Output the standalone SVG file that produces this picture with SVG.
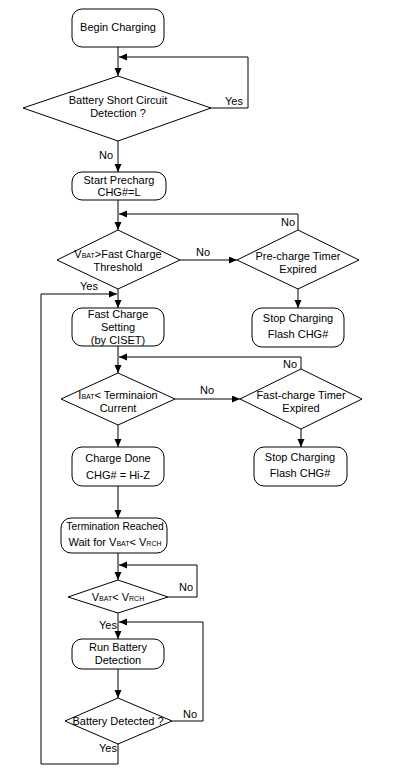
<svg xmlns="http://www.w3.org/2000/svg" width="400" height="774" viewBox="0 0 400 774">
<defs>
<marker id="ah" markerUnits="userSpaceOnUse" markerWidth="9" markerHeight="8" refX="8" refY="3.5" orient="auto">
<path d="M0,0 L8,3.5 L0,7 z" fill="#000"/>
</marker>
<style>
.box{fill:#fff;stroke:#000;stroke-width:1}
.dia{fill:#fff;stroke:#000;stroke-width:1}
.t{font-family:"Liberation Sans",Arial,sans-serif;font-size:11px;fill:#000;text-anchor:middle}
.l{font-family:"Liberation Sans",Arial,sans-serif;font-size:11px;fill:#000;text-anchor:middle}
.s{font-size:7px}
.c{fill:none;stroke:#000;stroke-width:1}
.a{marker-end:url(#ah)}
</style>
</defs>
<rect width="400" height="774" fill="#fff"/>
<g id="connectors">
<path class="c a" d="M118,47 V76"/>
<path class="c a" d="M211,108 H248 V57 H119"/>
<path class="c a" d="M118,141 V172"/>
<path class="c a" d="M118,200 V230"/>
<path class="c a" d="M298,230 V214 H119"/>
<path class="c a" d="M180,260 H237"/>
<path class="c a" d="M298,289 V308"/>
<path class="c a" d="M118,289 V308"/>
<path class="c a" d="M118,346 V373"/>
<path class="c a" d="M301,369 V357 H119"/>
<path class="c a" d="M175,399 H240"/>
<path class="c a" d="M301,429 V447"/>
<path class="c a" d="M118,425 V447"/>
<path class="c a" d="M118,486 V518"/>
<path class="c a" d="M118,553 V580"/>
<path class="c a" d="M168,597 H197 V565 H119"/>
<path class="c a" d="M118,613 V639"/>
<path class="c a" d="M118,669 V698"/>
<path class="c a" d="M172,721 H203 V622 H119"/>
<path class="c a" d="M118,744 V764 H41 V294 H117"/>
<text class="l" x="234" y="105">Yes</text>
<text class="l" x="106" y="159">No</text>
<text class="l" x="288" y="226">No</text>
<text class="l" x="203" y="256">No</text>
<text class="l" x="89" y="290">Yes</text>
<text class="l" x="290" y="368">No</text>
<text class="l" x="207" y="394">No</text>
<text class="l" x="186" y="591">No</text>
<text class="l" x="108" y="629">Yes</text>
<text class="l" x="190" y="718">No</text>
<text class="l" x="108" y="752">Yes</text>
</g>
<g id="begin">
<rect class="box" x="72" y="9" width="92" height="38" rx="10"/>
<text class="t" x="118" y="31">Begin Charging</text>
</g>
<g id="short-circuit">
<polygon class="dia" points="118,76 211,108 118,141 23,108"/>
<text class="t" x="118" y="104">Battery Short Circuit</text>
<text class="t" x="118" y="117">Detection ?</text>
</g>
<g id="precharge">
<rect class="box" x="72" y="172" width="94" height="28" rx="10"/>
<text class="t" x="119" y="184">Start Precharg</text>
<text class="t" x="119" y="196">CHG#=L</text>
</g>
<g id="fast-threshold">
<polygon class="dia" points="118,230 180,260 118,289 57,260"/>
<text class="t" x="118" y="258">V<tspan class="s">BAT</tspan>&gt;Fast Charge</text>
<text class="t" x="118" y="271">Threshold</text>
</g>
<g id="precharge-timer">
<polygon class="dia" points="298,230 359,260 298,289 237,260"/>
<text class="t" x="298" y="260">Pre-charge Timer</text>
<text class="t" x="298" y="273">Expired</text>
</g>
<g id="stop1">
<rect class="box" x="252" y="308" width="92" height="39" rx="10"/>
<text class="t" x="298" y="322">Stop Charging</text>
<text class="t" x="298" y="338">Flash CHG#</text>
</g>
<g id="fast-setting">
<rect class="box" x="72" y="308" width="92" height="38" rx="10"/>
<text class="t" x="118" y="318">Fast Charge</text>
<text class="t" x="118" y="331">Setting</text>
<text class="t" x="118" y="344">(by CISET)</text>
</g>
<g id="term-current">
<polygon class="dia" points="118,373 175,399 118,425 61,399"/>
<text class="t" x="118" y="399">I<tspan class="s">BAT</tspan>&lt; Terminaion</text>
<text class="t" x="118" y="412">Current</text>
</g>
<g id="fast-timer">
<polygon class="dia" points="301,369 362,399 301,429 240,399"/>
<text class="t" x="301" y="399">Fast-charge Timer</text>
<text class="t" x="301" y="412">Expired</text>
</g>
<g id="stop2">
<rect class="box" x="254" y="447" width="93" height="39" rx="10"/>
<text class="t" x="300" y="461">Stop Charging</text>
<text class="t" x="300" y="477">Flash CHG#</text>
</g>
<g id="charge-done">
<rect class="box" x="72" y="447" width="92" height="39" rx="10"/>
<text class="t" x="118" y="462">Charge Done</text>
<text class="t" x="118" y="479">CHG# = Hi-Z</text>
</g>
<g id="termination">
<rect class="box" x="61" y="518" width="106" height="35" rx="10"/>
<text class="t" x="115" y="530" style="font-size:10.3px">Termination Reached</text>
<text class="t" x="115" y="546">Wait for V<tspan class="s">BAT</tspan>&lt; V<tspan class="s">RCH</tspan></text>
</g>
<g id="vbat-vrch">
<polygon class="dia" points="118,580 168,597 118,613 68,597"/>
<text class="t" x="118" y="601">V<tspan class="s">BAT</tspan>&lt; V<tspan class="s">RCH</tspan></text>
</g>
<g id="run-detect">
<rect class="box" x="72" y="639" width="92" height="30" rx="10"/>
<text class="t" x="118" y="651">Run Battery</text>
<text class="t" x="118" y="664">Detection</text>
</g>
<g id="detected">
<polygon class="dia" points="118,698 172,721 118,744 65,721"/>
<text class="t" x="118" y="725">Battery Detected ?</text>
</g>
</svg>
